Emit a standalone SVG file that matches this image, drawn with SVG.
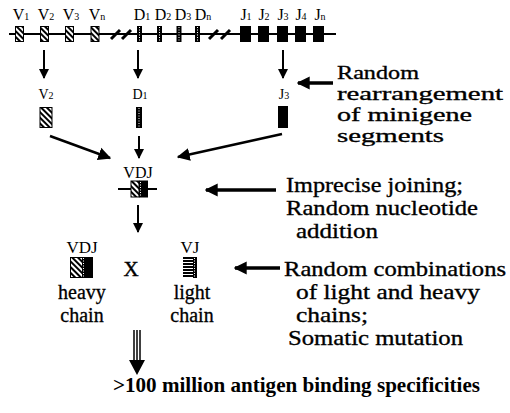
<svg xmlns="http://www.w3.org/2000/svg" width="510" height="413" viewBox="0 0 510 413">
<style>
text{font-family:'Liberation Serif',serif;fill:#000}
.lab{font-size:16px}
.lab2{font-size:14px}
.sub{font-size:10px}
.big{font-size:22px;stroke:#000;stroke-width:0.35}
.big1{font-size:19.5px;stroke:#000;stroke-width:0.35}
.mid{font-size:20px;stroke:#000;stroke-width:0.3}
.bold{font-size:21px;font-weight:bold}
.ln{stroke:#000;fill:none}
.blk{fill:#000}
.hat{fill:url(#hatch);stroke:#000;stroke-width:1}
.dot{fill:#000}
.dl{stroke:#fff;stroke-width:1;stroke-dasharray:1 1.5}
</style>
<defs>
<pattern id="hatch" patternUnits="userSpaceOnUse" width="4" height="4" patternTransform="rotate(-45)">
<rect width="4" height="4" fill="#fff"/>
<rect width="2" height="4" fill="#000"/>
</pattern>
<pattern id="hlines" patternUnits="userSpaceOnUse" width="4" height="3">
<rect width="4" height="3" fill="#000"/>
<rect y="1" width="4" height="1" fill="#fff"/>
</pattern>
<marker id="ah" viewBox="0 0 10 10" refX="9" refY="5" markerWidth="10" markerHeight="11" markerUnits="userSpaceOnUse" orient="auto">
<path d="M0,0 L10,5 L0,10 z" fill="#000"/>
</marker>
<marker id="ahb" viewBox="0 0 10 10" refX="9" refY="5" markerWidth="13" markerHeight="14" markerUnits="userSpaceOnUse" orient="auto">
<path d="M0,0 L10,5 L0,10 z" fill="#000"/>
</marker>
</defs>

<g id="germline">
<line class="ln" x1="9" y1="34" x2="336" y2="34" stroke-width="2"/>
<rect class="hat" x="15.5" y="26.5" width="8" height="15"/>
<rect class="hat" x="40.5" y="26.5" width="8" height="15"/>
<rect class="hat" x="65.5" y="26.5" width="8" height="15"/>
<rect class="hat" x="91" y="26.5" width="8" height="15"/>
<g stroke="#000" stroke-width="3">
<line x1="111" y1="39" x2="120" y2="30"/>
<line x1="122" y1="39" x2="131" y2="30"/>
<line x1="209" y1="39" x2="218" y2="30"/>
<line x1="221" y1="39" x2="230" y2="30"/>
</g>
<rect class="dot" x="137" y="26" width="5" height="16"/>
<line class="dl" x1="139.5" y1="27" x2="139.5" y2="41"/>
<rect class="dot" x="157" y="26" width="5" height="16"/>
<line class="dl" x1="159.5" y1="27" x2="159.5" y2="41"/>
<rect class="dot" x="176.5" y="26" width="5" height="16"/>
<line class="dl" x1="179" y1="27" x2="179" y2="41"/>
<rect class="dot" x="195" y="26" width="5" height="16"/>
<line class="dl" x1="197.5" y1="27" x2="197.5" y2="41"/>
<rect class="blk" x="240" y="26" width="11" height="16"/>
<rect class="blk" x="258" y="26" width="11" height="16"/>
<rect class="blk" x="277" y="26" width="11" height="16"/>
<rect class="blk" x="295" y="26" width="11" height="16"/>
<rect class="blk" x="313" y="26" width="11" height="16"/>
<g class="lab" text-anchor="middle">
<text x="21" y="20">V<tspan class="sub">1</tspan></text>
<text x="46" y="20">V<tspan class="sub">2</tspan></text>
<text x="71" y="20">V<tspan class="sub">3</tspan></text>
<text x="97" y="20">V<tspan class="sub">n</tspan></text>
<text x="142" y="20">D<tspan class="sub">1</tspan></text>
<text x="163" y="20">D<tspan class="sub">2</tspan></text>
<text x="183" y="20">D<tspan class="sub">3</tspan></text>
<text x="203" y="20">D<tspan class="sub">n</tspan></text>
<text x="246" y="20">J<tspan class="sub">1</tspan></text>
<text x="264" y="20">J<tspan class="sub">2</tspan></text>
<text x="283" y="20">J<tspan class="sub">3</tspan></text>
<text x="301" y="20">J<tspan class="sub">4</tspan></text>
<text x="320" y="20">J<tspan class="sub">n</tspan></text>
</g>
</g>

<g id="v2">
<text class="lab2" x="46" y="99" text-anchor="middle">V<tspan class="sub">2</tspan></text>
<rect class="hat" x="40" y="107.5" width="12" height="20"/>
</g>
<g id="d1">
<text class="lab2" x="140" y="99" text-anchor="middle">D<tspan class="sub">1</tspan></text>
<rect class="dot" x="136" y="107" width="6" height="21"/>
<line class="dl" x1="139" y1="108" x2="139" y2="127"/>
</g>
<g id="j3">
<text class="lab2" x="284" y="99" text-anchor="middle">J<tspan class="sub">3</tspan></text>
<rect class="blk" x="278" y="106" width="10" height="22"/>
</g>

<g id="vdj">
<text x="138" y="178" font-size="16" text-anchor="middle">VDJ</text>
<line class="ln" x1="118" y1="189" x2="157" y2="189" stroke-width="2"/>
<rect class="hat" x="131" y="181" width="8" height="16"/>
<rect class="dot" x="139" y="180.5" width="9" height="17"/>
<line class="dl" x1="140.5" y1="182" x2="140.5" y2="196"/>
</g>

<g id="heavy">
<text x="82" y="253" font-size="17" text-anchor="middle">VDJ</text>
<rect class="hat" x="70.5" y="257.5" width="12" height="20"/>
<rect class="dot" x="82" y="257" width="11" height="21"/>
<line class="dl" x1="83.5" y1="258" x2="83.5" y2="277"/>
<text class="mid" x="82" y="299" text-anchor="middle">heavy</text>
<text class="mid" x="82" y="322" text-anchor="middle">chain</text>
</g>
<g id="cross">
<text x="131" y="276" font-size="21" stroke="#000" stroke-width="0.4" text-anchor="middle">X</text>
</g>
<g id="light">
<text x="190" y="253" font-size="17" text-anchor="middle">VJ</text>
<rect x="183" y="257" width="14" height="21" fill="url(#hlines)"/>
<rect class="dot" x="193" y="257" width="4" height="21"/>
<line class="dl" x1="194.5" y1="258" x2="194.5" y2="277"/>
<text class="mid" x="192" y="299" text-anchor="middle">light</text>
<text class="mid" x="192" y="322" text-anchor="middle">chain</text>
</g>

<g id="notes">
<text class="big1" x="337" y="79" textLength="82" lengthAdjust="spacingAndGlyphs">Random</text>
<text class="big1" x="337" y="100" textLength="166" lengthAdjust="spacingAndGlyphs">rearrangement</text>
<text class="big1" x="337" y="121" textLength="135" lengthAdjust="spacingAndGlyphs">of minigene</text>
<text class="big1" x="337" y="142" textLength="107" lengthAdjust="spacingAndGlyphs">segments</text>
<text class="big" x="286" y="192" textLength="177" lengthAdjust="spacingAndGlyphs">Imprecise joining;</text>
<text class="big" x="286" y="215" textLength="192" lengthAdjust="spacingAndGlyphs">Random nucleotide</text>
<text class="big" x="296" y="238" textLength="82" lengthAdjust="spacingAndGlyphs">addition</text>
<text class="big" x="284" y="276" textLength="222" lengthAdjust="spacingAndGlyphs">Random combinations</text>
<text class="big" x="296" y="299" textLength="184" lengthAdjust="spacingAndGlyphs">of light and heavy</text>
<text class="big" x="296" y="322" textLength="72" lengthAdjust="spacingAndGlyphs">chains;</text>
<text class="big" x="288" y="345" textLength="175" lengthAdjust="spacingAndGlyphs">Somatic mutation</text>
</g>

<g id="result">
<text class="bold" x="113" y="392" textLength="367" lengthAdjust="spacingAndGlyphs">&gt;100 million antigen binding specificities</text>
</g>

<g id="connectors" class="ln">
<line x1="44" y1="50" x2="44" y2="78" stroke-width="2" marker-end="url(#ah)"/>
<line x1="138" y1="50" x2="138" y2="78" stroke-width="2" marker-end="url(#ah)"/>
<line x1="283" y1="50" x2="283" y2="78" stroke-width="2" marker-end="url(#ah)"/>
<line x1="50" y1="136" x2="110" y2="158" stroke-width="2.5" marker-end="url(#ahb)"/>
<line x1="139" y1="136" x2="139" y2="158" stroke-width="2" marker-end="url(#ah)"/>
<line x1="282" y1="134" x2="178" y2="157" stroke-width="2.5" marker-end="url(#ahb)"/>
<line x1="138" y1="205" x2="138" y2="232" stroke-width="2" marker-end="url(#ah)"/>
<line x1="333" y1="83" x2="298" y2="83" stroke-width="3.5" marker-end="url(#ahb)"/>
<line x1="276" y1="190" x2="206" y2="190" stroke-width="3.5" marker-end="url(#ahb)"/>
<line x1="280" y1="268" x2="235" y2="268" stroke-width="3.5" marker-end="url(#ahb)"/>
<g stroke-width="1.5">
<line x1="134" y1="330" x2="134" y2="362"/>
<line x1="137" y1="330" x2="137" y2="362"/>
<line x1="140" y1="330" x2="140" y2="362"/>
</g>
<path d="M129,360 L145,360 L137,375 z" fill="#000" stroke="none"/>
</g>
</svg>
